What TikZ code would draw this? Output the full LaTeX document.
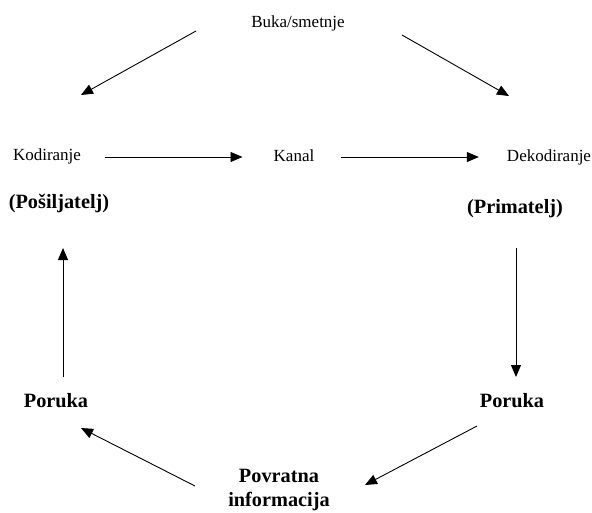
\documentclass[tikz,border=0pt]{standalone}
\usepackage{fontspec}
\setmainfont{Liberation Serif}
\usetikzlibrary{arrows.meta,calc,positioning}

\begin{document}
\begin{tikzpicture}[x=1pt, y=-1pt,
    every node/.style={inner sep=0pt},
    lbl/.style={font=\fontsize{17}{20}\selectfont},
    blbl/.style={font=\fontsize{20.3}{24}\selectfont\bfseries, align=center},
    arr/.style={-{Triangle[length=12pt,width=10pt]}, line width=0.9pt}]
  \useasboundingbox (0,0) rectangle (592,512);
  % top row
  \node[lbl] (buka) at (298,23) {Buka/smetnje};
  \node[lbl] (kod) at (47,156) {Kodiranje};
  \node[lbl] (kanal) at (294,156) {Kanal};
  \node[lbl] (dekod) at (549,157) {Dekodiranje};
  \node[blbl] (posilj) at (59,203) {(Pošiljatelj)};
  \node[blbl] (primat) at (515,209) {(Primatelj)};
  % bottom row
  \node[blbl] (porL) at (56,401) {Poruka};
  \node[blbl] (porR) at (512,401) {Poruka};
  \node[blbl] (povr) at (279,490) {Povratna\\informacija};
  % connectors
  \draw[arr] ($(buka)+(-102,8)$) -- ($(kod)+(34,-61)$);
  \draw[arr] ($(buka)+(104,12)$) -- ($(dekod)+(-40,-61)$);
  \draw[arr, shorten <=24pt, shorten >=31pt] ($(kod.east)+(0,1)$) -- ($(kanal.west)+(0,1)$);
  \draw[arr, shorten <=27pt, shorten >=28pt] ($(kanal.east)+(0,1)$) -- ($(dekod.west)+(0,0)$);
  \draw[arr] ($(primat)+(1,39)$) -- ($(porR)+(4,-24)$);
  \draw[arr] ($(porR)+(-35,25)$) -- ($(povr)+(86,-5)$);
  \draw[arr] ($(povr)+(-84,-4)$) -- ($(porL)+(25,27)$);
  \draw[arr] ($(porL)+(7,-24)$) -- ($(posilj)+(4,45)$);
\end{tikzpicture}
\end{document}
